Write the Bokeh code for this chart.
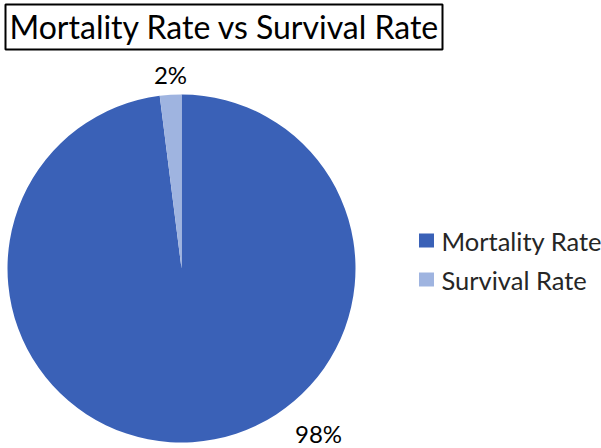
import math
from bokeh.plotting import figure
from bokeh.models import Range1d, ColumnDataSource
from bokeh.core.properties import value
from bokeh.embed import file_html
from bokeh.resources import INLINE

categories = ["Mortality Rate", "Survival Rate"]
percents = [98, 2]
colors = ["#3a61b7", "#9fb4e0"]
title_text = "Mortality Rate vs Survival Rate"

W, H = 601, 448
p = figure(width=W, height=H, output_backend="svg", toolbar_location=None,
           x_range=Range1d(0, W), y_range=Range1d(0, H),
           min_border=0, outline_line_color=None)
p.axis.visible = False
p.grid.visible = False
p.background_fill_color = "white"
p.border_fill_color = "white"

# pie: Excel draws clockwise from 12 o'clock
cx, cy, r = 181, 448 - 268, 174
total = sum(percents)
starts, ends = [], []
a = math.pi / 2
for v in percents:
    span = 2 * math.pi * v / total
    starts.append(a - span)
    ends.append(a)
    a -= span
src = ColumnDataSource(dict(start=starts, end=ends, color=colors, cat=categories))
p.wedge(x=cx, y=cy, radius=r, start_angle="start", end_angle="end",
        fill_color="color", line_color=None, source=src)

# data labels
lab_x = [318, 170]
lab_y = [448 - 433, 448 - 74]
p.text(x=lab_x, y=lab_y, text=[f"{v}%" for v in percents], text_align="center",
       text_baseline="alphabetic", text_font=value("Lato"), text_font_size="24px",
       text_color="#000000")

# title box
p.quad(left=[5], right=[442], bottom=[448 - 49], top=[448 - 4], fill_color="white",
       line_color="black", line_width=2)
p.text(x=[9], y=[448 - 26], text=[title_text], text_align="left",
       text_baseline="alphabetic", text_font=value("Lato"), text_font_size="32px",
       text_color="#000000")

# legend
leg_y = [448 - 240, 448 - 279]
p.rect(x=[426] * 2, y=leg_y, width=15, height=14, fill_color=colors, line_color=None)
p.text(x=[441] * 2, y=[448 - 240, 448 - 279], text=categories, text_align="left",
       text_baseline="alphabetic", text_font=value("Lato"), text_font_size="25.5px",
       text_color="#262626")

open("out.html", "w").write(file_html(p, INLINE))
